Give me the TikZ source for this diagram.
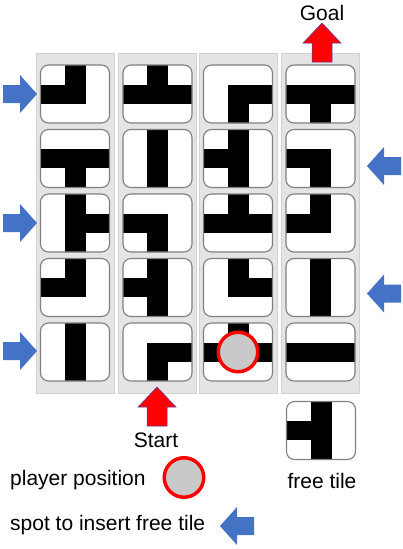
\documentclass[tikz,border=0pt]{standalone}
\usepackage{fontspec}
\setmainfont{Liberation Sans}
\usetikzlibrary{positioning}

\definecolor{insertblue}{HTML}{4472C4}
\definecolor{panelgray}{HTML}{E4E4E4}
\definecolor{paneledge}{HTML}{D2D2D2}

% the black arms of a tile, drawn inside the tile's outline
\newcommand\armN{\fill[black, sharp corners] ([xshift=-10.5pt,yshift=-9.5pt]path picture bounding box.center) rectangle ([xshift=10.5pt,yshift=2pt]path picture bounding box.north);}
\newcommand\armS{\fill[black, sharp corners] ([xshift=-10.5pt,yshift=9.5pt]path picture bounding box.center) rectangle ([xshift=10.5pt,yshift=-2pt]path picture bounding box.south);}
\newcommand\armE{\fill[black, sharp corners] ([xshift=-10.5pt,yshift=-9.5pt]path picture bounding box.center) rectangle ([xshift=2pt,yshift=9.5pt]path picture bounding box.east);}
\newcommand\armW{\fill[black, sharp corners] ([xshift=10.5pt,yshift=-9.5pt]path picture bounding box.center) rectangle ([xshift=-2pt,yshift=9.5pt]path picture bounding box.west);}

\tikzset{
  pics/bluearrow/.style={code={
    \fill[insertblue] (-34,-9) -- (-17,-9) -- (-17,-19) -- (0,0) -- (-17,19) -- (-17,9) -- (-34,9) -- cycle;}},
  pics/redarrow/.style={code={
    \filldraw[fill=red, draw=blue!45!gray, line width=0.5pt] (-39,-10) -- (-20,-10) -- (-20,-19) -- (0,0) -- (-20,19) -- (-20,10) -- (-39,10) -- cycle;}}
}

\begin{document}
\begin{tikzpicture}[x=1pt, y=-1pt, font=\fontsize{21}{25}\selectfont,
  column/.style={fill=panelgray, draw=paneledge, line width=0.8pt,
                 minimum width=78pt, minimum height=340pt, inner sep=0pt},
  tile/.style={draw=black!50, fill=white, rounded corners=8pt, line width=1.1pt,
               minimum width=69pt, minimum height=58pt, inner sep=0pt,
               path picture={\foreach \d in {#1}{\csname arm\d\endcsname}}},
  player/.style={circle, draw=red, fill=black!21, line width=3.5pt,
                 minimum size=39.5pt, inner sep=0pt}]
  \useasboundingbox (0,0) rectangle (403,549);

  % the four columns of the board
  \foreach \x [count=\i] in {75,157.5,238,320.5}
    \node[column] (col\i) at (\x,223) {};

  % row 1
  \node[tile={N,W}]   (t11) at (75,94) {};
  \node[tile={N,E,W}] (t12) at (157.5,94) {};
  \node[tile={E,S}]   (t13) at (238,94) {};
  \node[tile={E,S,W}] (t14) at (320.5,94) {};
  % row 2
  \node[tile={E,S,W}] (t21) at (75,158.5) {};
  \node[tile={N,S}]   (t22) at (157.5,158.5) {};
  \node[tile={N,S,W}] (t23) at (238,158.5) {};
  \node[tile={S,W}]   (t24) at (320.5,158.5) {};
  % row 3
  \node[tile={N,E,S}] (t31) at (75,223) {};
  \node[tile={S,W}]   (t32) at (157.5,223) {};
  \node[tile={N,E,W}] (t33) at (238,223) {};
  \node[tile={N,W}]   (t34) at (320.5,223) {};
  % row 4
  \node[tile={N,W}]   (t41) at (75,287.5) {};
  \node[tile={N,S,W}] (t42) at (157.5,287.5) {};
  \node[tile={N,E}]   (t43) at (238,287.5) {};
  \node[tile={N,S}]   (t44) at (320.5,287.5) {};
  % row 5
  \node[tile={N,S}]   (t51) at (75,352) {};
  \node[tile={E,S}]   (t52) at (157.5,352) {};
  \node[tile={N,E,W}] (t53) at (238,352) {};
  \node[tile={E,W}]   (t54) at (320.5,352) {};

  \node[player] (player) at (t53) {};

  % where the free tile can be pushed in
  \pic (inL1) at (37,94) {bluearrow};
  \pic (inL3) at (37,223) {bluearrow};
  \pic (inL5) at (37,351) {bluearrow};
  \pic[rotate=180] (inR2) at (367,166) {bluearrow};
  \pic[rotate=180] (inR4) at (367,293.5) {bluearrow};

  % start and goal
  \pic[rotate=90] (goalarrow) at (322,23) {redarrow};
  \node[anchor=base] (goal) at (322,20) {Goal};
  \pic[rotate=90] (startarrow) at (157,387) {redarrow};
  \node[anchor=base] (start) at (156,447) {Start};

  % free tile
  \node[tile={N,S,W}] (free) at (321,430.5) {};
  \node[anchor=base] (freelabel) at (322,488) {free tile};

  % legend
  \node[anchor=base west, inner sep=0pt] (lplayer) at (10,485.5) {player position};
  \node[player] (lcircle) at (184,477.5) {};
  \node[anchor=base west, inner sep=0pt] (linsert) at (10,530.5) {spot to insert free tile};
  \pic[rotate=180] (larrow) at (220,526) {bluearrow};
\end{tikzpicture}
\end{document}
